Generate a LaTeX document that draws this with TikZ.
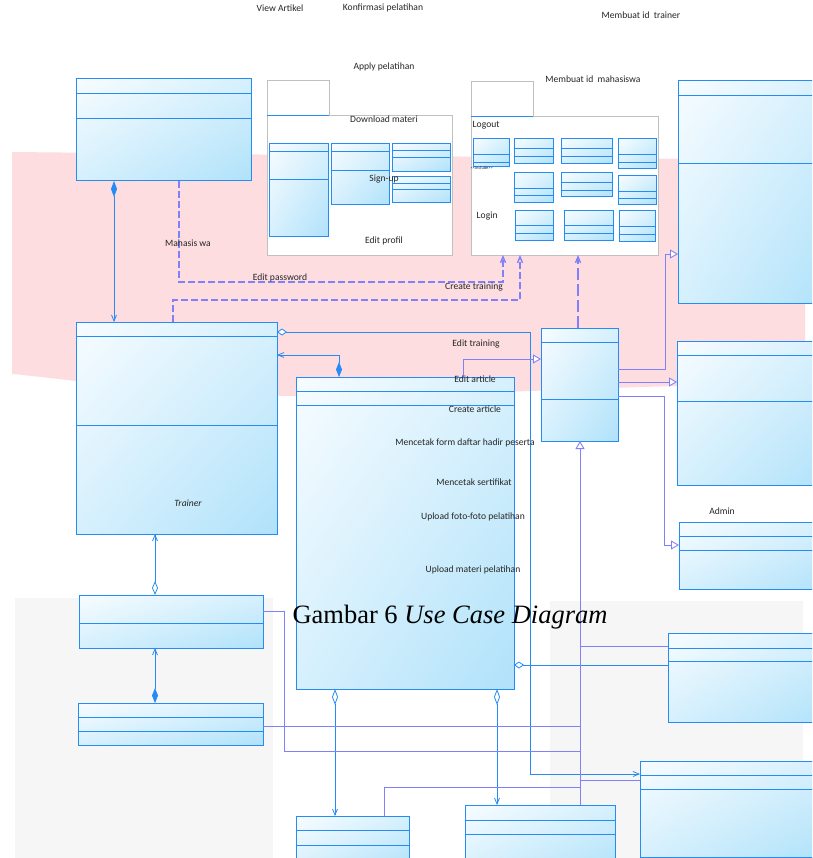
\documentclass[tikz,border=0pt]{standalone}
\usepackage{fontspec}
\setmainfont{Carlito}
\newfontfamily\capfont{Liberation Serif}
\usetikzlibrary{arrows.meta,shadings}
\definecolor{bl}{RGB}{38,140,245}
\definecolor{pu}{RGB}{128,128,250}
\definecolor{gA}{RGB}{247,252,255}
\definecolor{gB}{RGB}{176,226,250}
\definecolor{gM}{RGB}{214,240,253}
\definecolor{pinkbg}{RGB}{253,221,224}
\definecolor{graybg}{RGB}{246,246,246}
\definecolor{pkgc}{RGB}{192,192,192}
\tikzset{
  cls/.style={draw=bl, line width=1pt, upper left=gA, lower right=gB, upper right=gM, lower left=gM, inner sep=0pt, outer sep=0pt},
  cln/.style={draw=bl, line width=0.9pt},
  pkgbox/.style={draw=pkgc, fill=white, line width=0.9pt, inner sep=0pt, outer sep=0pt},
  lbl/.style={font=\fontsize{9.6}{11}\selectfont, text=black!85, inner sep=0.5pt},
  assoc/.style={draw=bl, line width=0.8pt},
  gen/.style={draw=pu, line width=0.9pt},
  dep/.style={draw=pu, line width=1.4pt, dash pattern=on 7pt off 3pt},
  barb/.tip={Straight Barb[length=6pt,width=5pt]},
  tri/.tip={Triangle[length=8pt,width=9pt,fill=white]}
}
\newcommand{\clsbox}[6]{%
  \node[cls, anchor=north west, minimum width={#4-#2}, minimum height={#5-#3}] (#1) at (#2,#3) {};
  \foreach \yy in {#6} {\draw[cln] (#2,\yy) -- (#4,\yy);}
}
\begin{document}
\begin{tikzpicture}[x=1pt,y=-1pt]
\clip (0,0) rectangle (812,858);
\fill[white] (0,0) rectangle (812,858);
% background watermark
\fill[pinkbg] (12,152) -- (805,160) -- (805,383) .. controls (600,386) and (420,398) .. (290,396) .. controls (150,393) and (60,378) .. (12,374) -- cycle;
\fill[graybg] (15,598) rectangle (273,858);
\fill[graybg] (550,601) rectangle (803,858);
% packages
\node[pkgbox, anchor=north west, minimum width=62pt, minimum height=35pt] (P1t) at (267,80) {};
\node[pkgbox, anchor=north west, minimum width=185pt, minimum height=140pt] (P1) at (267,115) {};
\draw[cln] (P1t.south west) -- (P1t.south east);
\node[pkgbox, anchor=north west, minimum width=62pt, minimum height=35pt] (P2t) at (471,81) {};
\node[pkgbox, anchor=north west, minimum width=187pt, minimum height=139pt] (P2) at (471,116) {};
\draw[cln] (P2t.south west) -- (P2t.south east);
% boxes in package 1
\clsbox{pa}{269}{144}{328}{237}{151,179}
\clsbox{pb}{331}{144}{389}{205}{151,170}
\clsbox{pc}{392}{144}{450}{172}{150,157}
\clsbox{pd}{392}{177}{450}{203}{183,189}
% boxes in package 2
\clsbox{q1}{473}{139}{509}{167}{154,162}
\clsbox{q2}{514}{139}{553}{164}{148,156}
\clsbox{q3}{561}{139}{612}{164}{148,156}
\clsbox{q4}{618}{139}{656}{169}{154,162}
\clsbox{q5}{514}{173}{553}{203}{188,195}
\clsbox{q6}{561}{173}{612}{197}{182,190}
\clsbox{q7}{618}{176}{656}{205}{191,198}
\clsbox{q8}{515}{211}{553}{241}{225,233}
\clsbox{q9}{564}{211}{613}{241}{225,233}
\clsbox{q10}{619}{211}{655}{242}{226,234}
% main classes
\clsbox{A}{76}{79}{251}{181}{93,118}
\clsbox{T}{76}{322}{277}{534}{336,425}
\clsbox{M}{296}{377}{514}{689}{391,405}
\clsbox{C}{541}{328}{618}{441}{342,399}
\clsbox{L1}{79}{595}{263}{648}{623}
\clsbox{L2}{78}{703}{263}{745}{717,731}
\clsbox{B2}{296}{816}{409}{872}{830,845}
\clsbox{B1}{465}{805}{615}{872}{820,834}
\clsbox{R1}{678}{81}{830}{303}{95,163}
\clsbox{R2}{677}{341}{830}{485}{355,401}
\clsbox{R3}{679}{522}{830}{589}{536,550}
\clsbox{R4}{668}{633}{830}{722}{648,661}
\clsbox{R5}{640}{761}{830}{857}{775,789}
% dependencies (dashed)
\draw[dep, -barb] (179,0 |- A.south) |- (503,282) -- (503,0 |- P2.south);
\draw[dep, -barb] (173,0 |- T.north) |- (520,300) -- (520,0 |- P2.south);
\draw[dep, dash pattern=on 12pt off 4pt, -barb] (578,0 |- C.north) -- (578,0 |- P2.south);
% associations
\draw[assoc, {Diamond[length=16pt,width=6pt]}-barb] (114,0 |- A.south) -- (114,0 |- T.north);
\draw[assoc, {Diamond[open,length=10pt,width=7pt,fill=white]}-barb] (T.east |- 0,332) -| (530,774) -- (R5.west |- 0,774);
\draw[assoc, barb-{Diamond[length=15pt,width=6pt]}] (T.east |- 0,355) -| (339,0 |- M.north);
\draw[assoc, {Diamond[open,length=10pt,width=7pt,fill=white]}-] (M.east |- 0,665) -- (R4.west |- 0,665);
\draw[assoc, {Diamond[open,length=16pt,width=6pt,fill=white]}-barb] (335,0 |- M.south) -- (335,0 |- B2.north);
\draw[assoc, {Diamond[open,length=16pt,width=6pt,fill=white]}-barb] (497,0 |- M.south) -- (497,0 |- B1.north);
\draw[assoc, barb-{Diamond[open,length=14pt,width=6pt,fill=white]}] (155,0 |- T.south) -- (155,0 |- L1.north);
\draw[assoc, barb-{Diamond[length=15pt,width=6pt]}] (155,0 |- L1.south) -- (155,0 |- L2.north);
% generalizations
\draw[gen, -tri] (463,0 |- M.north) |- (C.west |- 0,359);
\draw[gen, -tri] (C.east |- 0,369) -| (665,254) -- (R1.west |- 0,254);
\draw[gen, -tri] (C.east |- 0,382) -- (R2.west |- 0,382);
\draw[gen, -tri] (C.east |- 0,396) -| (664,545) -- (R3.west |- 0,545);
\draw[gen] (R4.west |- 0,646) -- (580,646);
\draw[gen] (L1.east |- 0,611) -| (284,751) -- (580,751);
\draw[gen] (L2.east |- 0,726) -- (580,726);
\draw[gen] (R5.west |- 0,780) -- (580,780);
\draw[gen] (384,0 |- B2.north) |- (580,787);
\draw[gen, -tri] (580,0 |- B1.north) -- (580,0 |- C.south);
% labels
\node[lbl] (t1) at (280,8) {View Artikel};
\node[lbl] (t2) at (383,8) {Konfirmasi pelatihan};
\node[lbl] (t3) at (641,15) {Membuat id\ \ trainer};
\node[lbl] (t4) at (384,67) {Apply pelatihan};
\node[lbl] (t5) at (593,79) {Membuat id\ \ mahasiswa};
\node[lbl] (t6) at (384,119) {Download materi};
\node[lbl] (t7) at (384,179) {Sign-up};
\node[lbl] (t8) at (384,241) {Edit profil};
\node[lbl, anchor=west] (t9) at (472,125) {Logout};
\node[lbl, anchor=west] (t10) at (476,216) {Login};
\node[lbl, anchor=west, font=\fontsize{4.5}{5}\selectfont] (t11) at (470,168) {<{}<include>{}>};
\node[lbl] (t12) at (188,243) {Mahasis wa};
\node[lbl] (t13) at (280,278) {Edit password};
\node[lbl] (t14) at (474,287) {Create training};
\node[lbl] (t15) at (476,344) {Edit training};
\node[lbl] (t16) at (475,379) {Edit article};
\node[lbl] (t17) at (475,409) {Create article};
\node[lbl] (t18) at (465,443) {Mencetak form daftar hadir peserta};
\node[lbl] (t19) at (474,482) {Mencetak sertifikat};
\node[lbl] (t20) at (473,517) {Upload foto-foto pelatihan};
\node[lbl] (t21) at (473,570) {Upload materi pelatihan};
\node[lbl, font=\fontsize{9.6}{11}\selectfont\itshape] (t22) at (188,503) {Trainer};
\node[lbl] (t23) at (722,511) {Admin};
\node[inner sep=0pt, font=\capfont\fontsize{26.5}{30}\selectfont] (cap) at (450,617) {Gambar 6 \textit{Use Case Diagram}};
\end{tikzpicture}
\end{document}
